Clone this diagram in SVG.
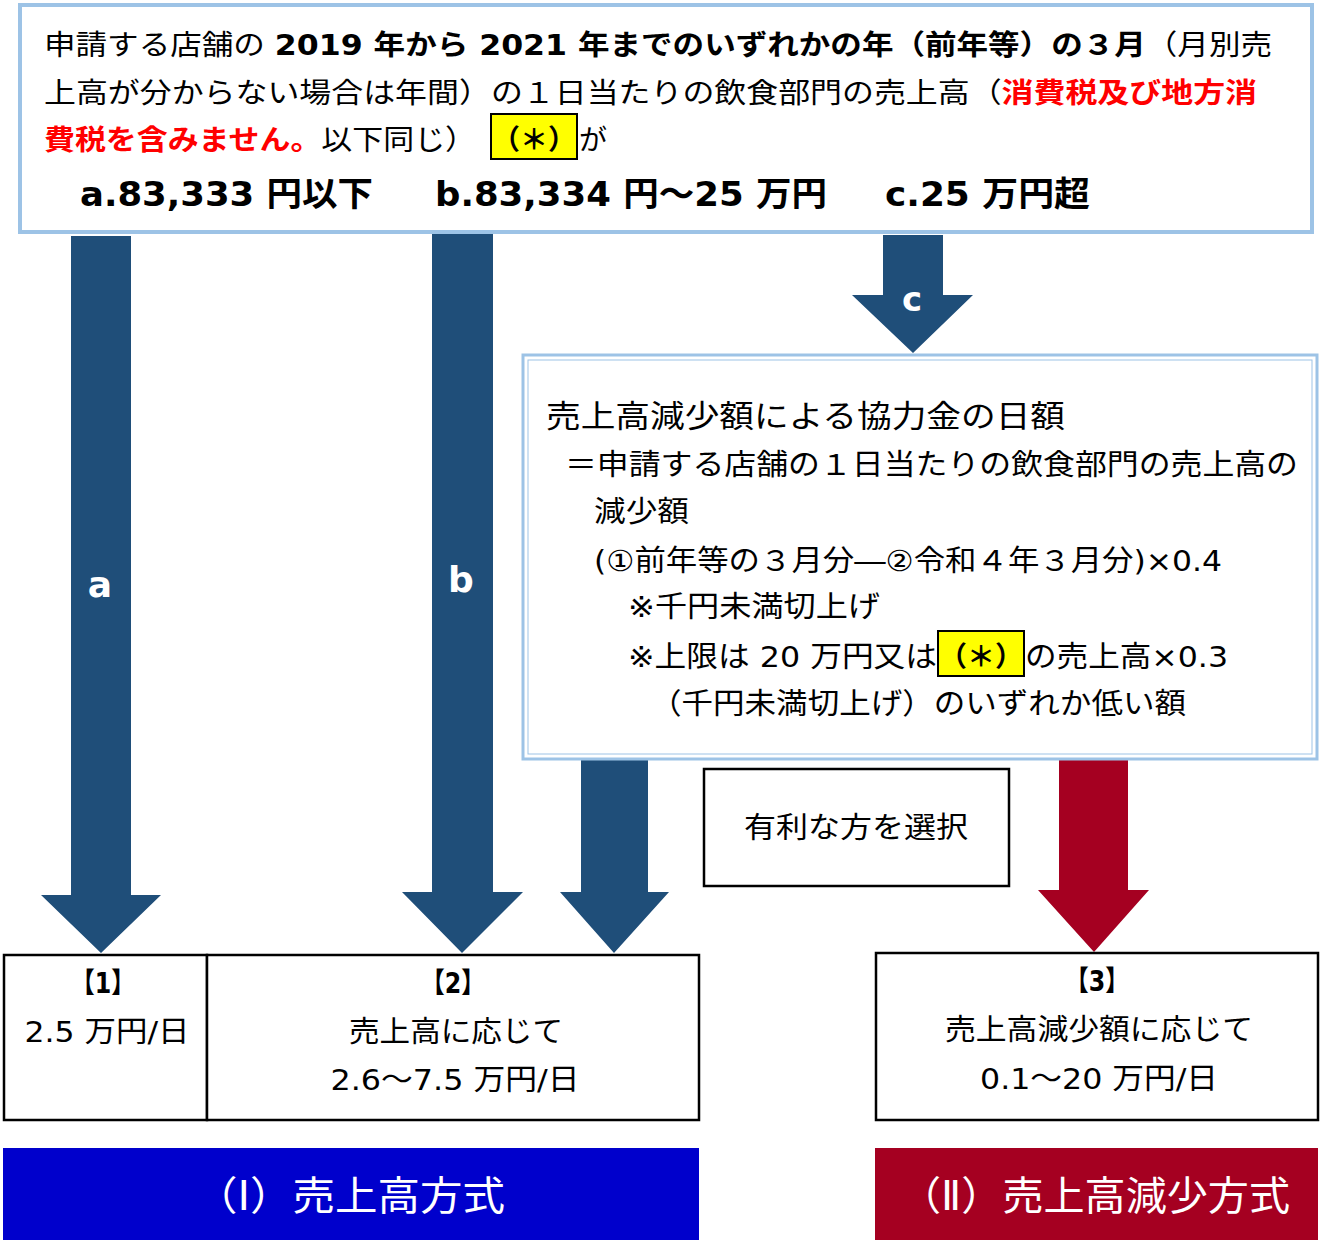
<svg xmlns="http://www.w3.org/2000/svg" width="1320" height="1240" viewBox="0 0 1320 1240">
<style>
text{font-family:"DejaVu Sans","Noto Sans CJK JP",sans-serif;fill:#000}
.t{font-size:28px}
.f{font-size:29px}
.b{font-weight:bold}
.r{fill:#FF0000;font-weight:bold}
.big{font-size:34px;font-weight:bold}
.mid{text-anchor:middle}
.arr{fill:#1F4E79}
.red{fill:#A50021}
.box{fill:#fff;stroke:#000;stroke-width:2.5}
.yel{fill:#FFFF00;stroke:#000;stroke-width:2}
.w{fill:#fff}
</style>
<rect width="1320" height="1240" fill="#fff"/>
<g id="connectors">
  <polygon class="arr" points="71,236 131,236 131,895 161,895 101,953 41,895 71,895"/>
  <polygon class="arr" points="432,231 493,231 493,892 523,892 462,953 402,892 432,892"/>
  <polygon class="arr" points="883,235 943,235 943,295 973,295 913,353 852,295 883,295"/>
  <polygon class="arr" points="581,760 648,760 648,892 669,892 614,953 560,892 581,892"/>
  <polygon class="red" points="1059,760 1128,760 1128,890 1149,890 1094,952 1038,890 1059,890"/>
  <text x="100" y="597" class="w b mid" style="font-size:36px">a</text>
  <text x="461" y="592" class="w b mid" style="font-size:36px">b</text>
  <text x="912" y="311" class="w b mid" style="font-size:34px">c</text>
</g>
<g id="top">
  <rect x="20" y="5" width="1292" height="227" fill="#fff" stroke="#9DC3E6" stroke-width="4"/>
  <text x="44" y="55" class="t" textLength="1228" lengthAdjust="spacingAndGlyphs">申請する店舗の <tspan class="b">2019 年から 2021 年までのいずれかの年（前年等）の３月</tspan>（月別売</text>
  <text x="44" y="103" class="t" textLength="1213" lengthAdjust="spacingAndGlyphs">上高が分からない場合は年間）の１日当たりの飲食部門の売上高（<tspan class="r">消費税及び地方消</tspan></text>
  <text x="44" y="150" class="t" textLength="432" lengthAdjust="spacingAndGlyphs"><tspan class="r">費税を含みません。</tspan>以下同じ）</text>
  <rect x="491" y="114" width="86" height="45" class="yel"/>
  <text x="534" y="150" class="t b mid">（＊）</text>
  <text x="579" y="150" class="t">が</text>
  <text x="80" y="206" class="big" textLength="293" lengthAdjust="spacingAndGlyphs">a.83,333 円以下</text>
  <text x="435" y="206" class="big" textLength="392" lengthAdjust="spacingAndGlyphs">b.83,334 円～25 万円</text>
  <text x="885" y="206" class="big" textLength="205" lengthAdjust="spacingAndGlyphs">c.25 万円超</text>
</g>
<g id="formula">
  <rect x="523" y="355" width="794" height="404" fill="#fff" stroke="#9DC3E6" stroke-width="3"/>
  <rect x="528" y="360" width="784" height="394" fill="none" stroke="#9DC3E6" stroke-width="1"/>
  <text x="546" y="427" style="font-size:31px" textLength="519" lengthAdjust="spacingAndGlyphs">売上高減少額による協力金の日額</text>
  <text x="565" y="475" class="f" textLength="733" lengthAdjust="spacingAndGlyphs">＝申請する店舗の１日当たりの飲食部門の売上高の</text>
  <text x="594" y="522" class="f" textLength="95" lengthAdjust="spacingAndGlyphs">減少額</text>
  <text x="594" y="571" class="f" textLength="628" lengthAdjust="spacingAndGlyphs">(①前年等の３月分―②令和４年３月分)×0.4</text>
  <text x="628" y="617" class="f" textLength="252" lengthAdjust="spacingAndGlyphs">※千円未満切上げ</text>
  <text x="628" y="667" class="f" textLength="309" lengthAdjust="spacingAndGlyphs">※上限は 20 万円又は</text>
  <rect x="938" y="631" width="86" height="45" class="yel"/>
  <text x="981" y="667" class="t b mid">（＊）</text>
  <text x="1025" y="667" class="f" textLength="203" lengthAdjust="spacingAndGlyphs">の売上高×0.3</text>
  <text x="650" y="714" class="f" textLength="536" lengthAdjust="spacingAndGlyphs">（千円未満切上げ）のいずれか低い額</text>
</g>
<g id="choice">
  <rect x="704" y="769" width="305" height="117" class="box"/>
  <text x="856" y="838" class="f mid" textLength="224" lengthAdjust="spacingAndGlyphs">有利な方を選択</text>
</g>
<g id="n1">
  <rect x="4" y="955" width="203" height="165" class="box"/>
  <text x="103" y="993" class="t b mid" textLength="64" lengthAdjust="spacingAndGlyphs">【1】</text>
  <text x="107" y="1042" class="f mid" textLength="165" lengthAdjust="spacingAndGlyphs">2.5 万円/日</text>
</g>
<g id="n2">
  <rect x="207" y="955" width="492" height="165" class="box"/>
  <text x="453" y="993" class="t b mid" textLength="64" lengthAdjust="spacingAndGlyphs">【2】</text>
  <text x="456" y="1042" class="f mid" textLength="214" lengthAdjust="spacingAndGlyphs">売上高に応じて</text>
  <text x="455" y="1090" class="f mid" textLength="249" lengthAdjust="spacingAndGlyphs">2.6～7.5 万円/日</text>
</g>
<g id="n3">
  <rect x="876" y="953" width="442" height="167" class="box"/>
  <text x="1097" y="991" class="t b mid" textLength="64" lengthAdjust="spacingAndGlyphs">【3】</text>
  <text x="1099" y="1040" class="f mid" textLength="308" lengthAdjust="spacingAndGlyphs">売上高減少額に応じて</text>
  <text x="1099" y="1089" class="f mid" textLength="238" lengthAdjust="spacingAndGlyphs">0.1～20 万円/日</text>
</g>
<g id="m1">
  <rect x="3" y="1148" width="696" height="92" fill="#0000CC"/>
  <text x="350" y="1210" class="w mid" style="font-size:40px" textLength="310" lengthAdjust="spacingAndGlyphs">（Ⅰ）売上高方式</text>
</g>
<g id="m2">
  <rect x="875" y="1148" width="443" height="92" fill="#A50021"/>
  <text x="1095" y="1210" class="w mid" style="font-size:40px" textLength="390" lengthAdjust="spacingAndGlyphs">（Ⅱ）売上高減少方式</text>
</g>
</svg>
